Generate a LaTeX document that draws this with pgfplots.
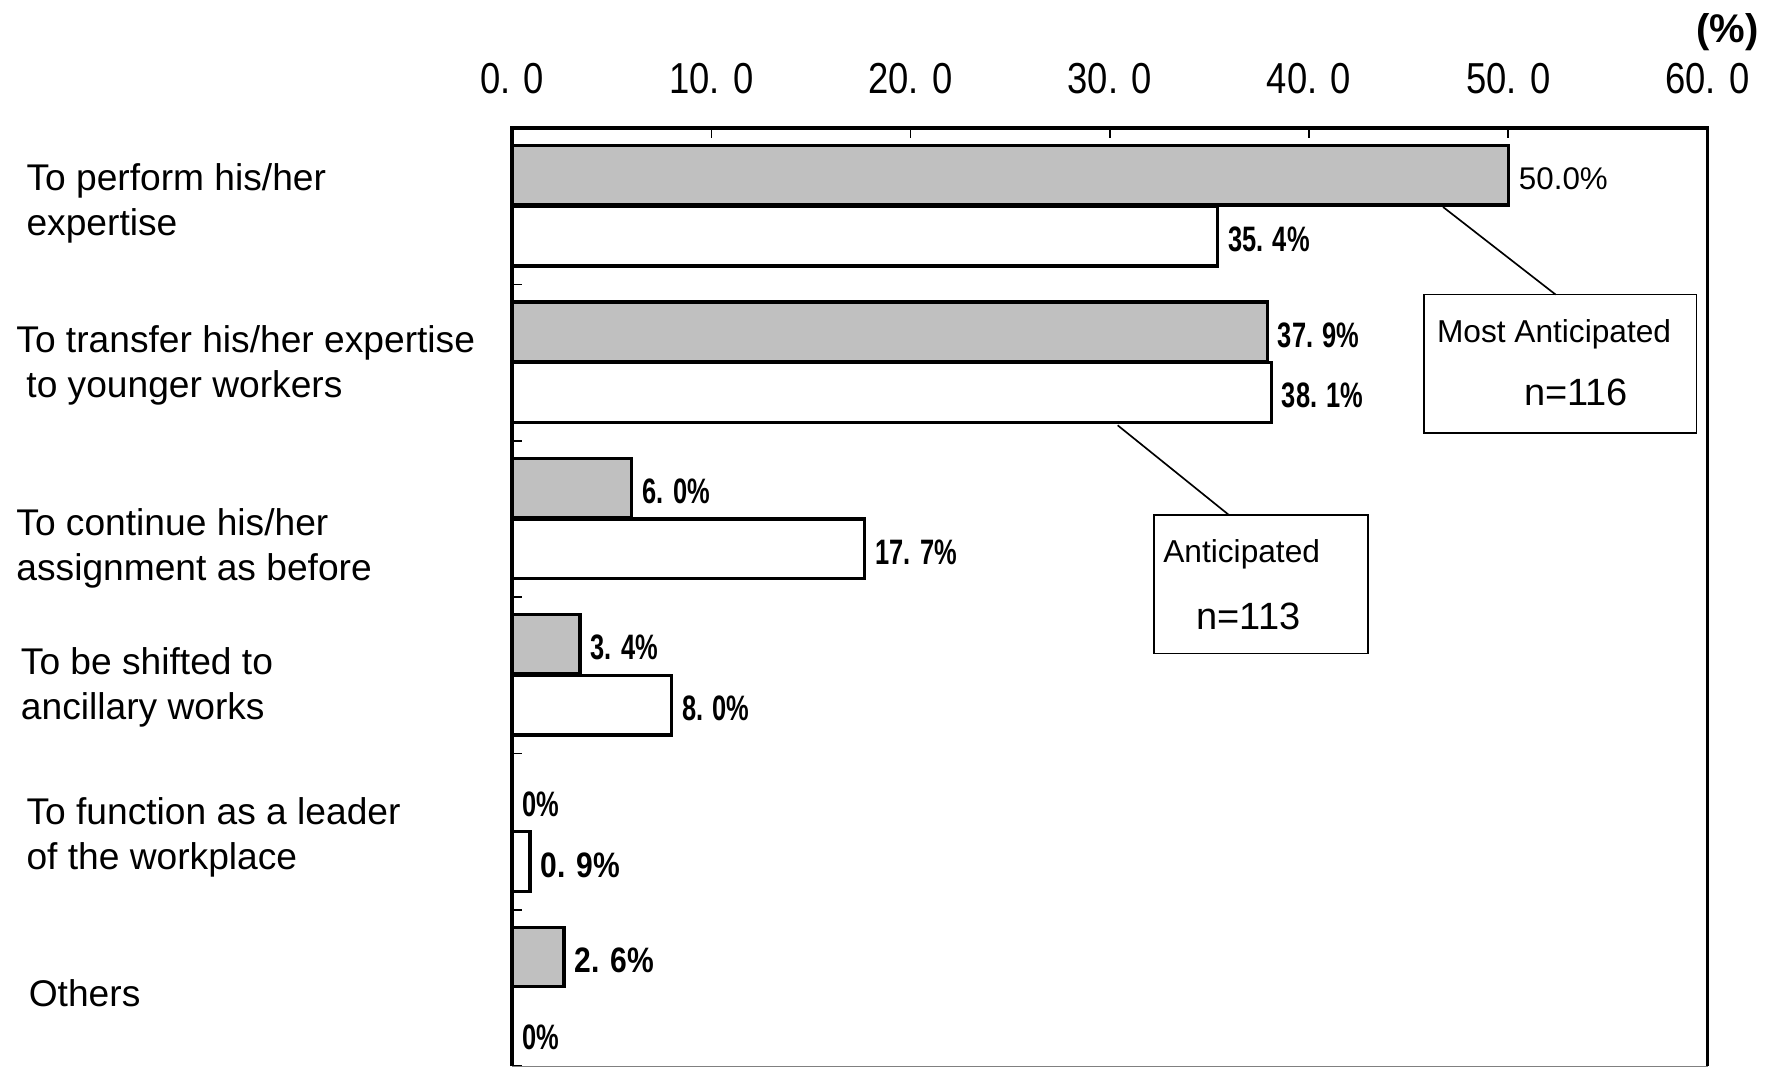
\documentclass[border=0pt]{standalone}
\usepackage{fontspec}
\setmainfont{Liberation Sans}
\usepackage{graphicx}
\usepackage{pgfplots}
\pgfplotsset{compat=1.18}
\definecolor{barg}{RGB}{192,192,192}
\newcommand\B[1]{\scalebox{0.72}[1]{\fontsize{10.6}{12}\selectfont\bfseries #1}}
\newcommand\C[1]{\scalebox{0.85}[1]{\fontsize{10.6}{12}\selectfont\bfseries #1}}
\newcommand\R[1]{{\fontsize{9.4}{11}\selectfont #1}}
\newcommand\T[1]{\scalebox{0.84}[1]{\fontsize{13}{15}\selectfont #1}}
\newcommand\Z[1]{\raisebox{-8.5pt}[0pt][0pt]{\B{#1}}}
\begin{document}
\begin{tikzpicture}
\useasboundingbox (0,0) rectangle (529.5pt,320.4pt);
\begin{axis}[
  at={(153.65pt,0.5pt)}, anchor=south west,
  scale only axis, width=358.6pt, height=281.4pt,
  xmin=0, xmax=60, ymin=0, ymax=6,
  xbar, bar width=0.38, bar shift=0pt,
  xtick={0,10,20,30,40,50,60},
  xticklabels={\T{0. 0},\T{10. 0},\T{20. 0},\T{30. 0},\T{40. 0},\T{50. 0},\T{60. 0}},
  xtick pos=right, xticklabel pos=right,
  xticklabel style={anchor=center, yshift=15pt},
  ytick={0,1,2,3,4,5,6}, yticklabels={}, ytick pos=left,
  tick align=inside, major tick length=3pt,
  tick style={black, line width=0.5pt},
  axis line style={draw=none},
  nodes near coords, point meta=explicit symbolic,
  every node near coord/.append style={anchor=west, xshift=2.7pt, yshift=-1pt, inner sep=0pt},
  clip=false,
]
\addplot[draw=black, line width=1pt, fill=barg] coordinates {
  (50,5.70) [\R{50.0\%}]
  (37.9,4.70) [\B{37. 9\%}]
  (6.0,3.70) [\B{6. 0\%}]
  (3.4,2.70) [\B{3. 4\%}]
  (0,1.70) [\B{0\%}]
  (2.6,0.70) [\C{2. 6\%}]
};
\addplot[draw=black, line width=1pt, fill=white] coordinates {
  (35.4,5.31) [\B{35. 4\%}]
  (38.1,4.31) [\B{38. 1\%}]
  (17.7,3.31) [\B{17. 7\%}]
  (8.0,2.31) [\B{8. 0\%}]
  (0.9,1.31) [\C{0. 9\%}]
  (0,0.31) [\Z{0\%}]
};
\draw[line width=1.1pt] (axis cs:0,0) -- (axis cs:0,6) -- (axis cs:60,6) -- (axis cs:60,0);
\draw[gray, line width=0.4pt] (axis cs:0,0) -- (axis cs:60,0);
\end{axis}
% category labels
\begin{scope}[every node/.style={anchor=west, inner sep=0pt, align=left, font=\fontsize{11.15}{13.5}\selectfont}]
\node at (7.77pt,259.4pt) {To perform his/her\\expertise};
\node at (4.73pt,210.8pt) {To transfer his/her expertise\\\hspace*{3pt}to younger workers};
\node at (4.73pt,155.8pt) {To continue his/her\\assignment as before};
\node at (6.08pt,114.3pt) {To be shifted to\\ancillary works};
\node at (7.77pt,69.3pt) {To function as a leader\\of the workplace};
\node at (8.44pt,22.4pt) {Others};
\end{scope}
% callouts
\draw[line width=0.5pt] (427.2pt,190.5pt) rectangle (508.9pt,232.0pt);
\node[anchor=west, inner sep=0pt, font=\fontsize{9.5}{11}\selectfont] at (430.9pt,220.2pt) {Most Anticipated};
\node[inner sep=0pt, font=\fontsize{11.4}{13}\selectfont] at (472.8pt,202.6pt) {n=116};
\draw[line width=0.5pt] (432.9pt,258.3pt) -- (466.7pt,232.0pt);
\draw[line width=0.5pt] (346.1pt,124.3pt) rectangle (410.3pt,165.8pt);
\node[anchor=west, inner sep=0pt, font=\fontsize{9.5}{11}\selectfont] at (348.8pt,154.0pt) {Anticipated};
\node[inner sep=0pt, font=\fontsize{11.4}{13}\selectfont] at (374.5pt,135.4pt) {n=113};
\draw[line width=0.5pt] (335.3pt,192.8pt) -- (368.8pt,165.8pt);
\node[anchor=east, inner sep=0pt, font=\fontsize{12}{14}\selectfont\bfseries] at (527.8pt,310.8pt) {(\%)};
\end{tikzpicture}
\end{document}
